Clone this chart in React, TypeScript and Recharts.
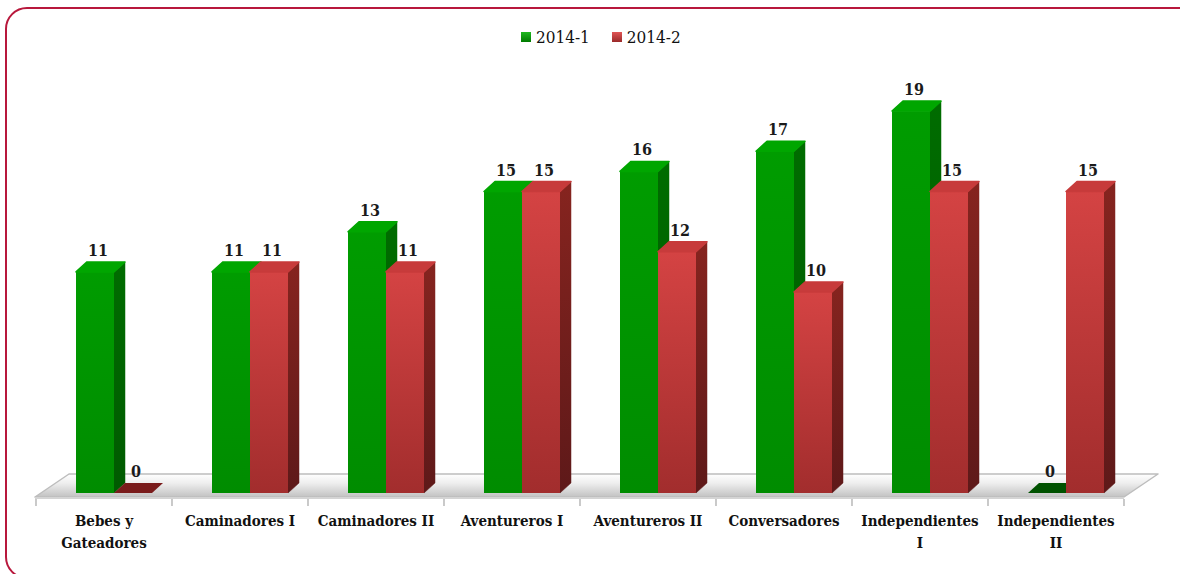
import React from 'react';
import { BarChart, Bar, XAxis, YAxis, Legend, LabelList, Customized } from 'recharts';

// ---------- data ----------
const categories = [
  'Bebes y Gateadores',
  'Caminadores I',
  'Caminadores II',
  'Aventureros I',
  'Aventureros II',
  'Conversadores',
  'Independientes I',
  'Independientes II',
];
const tickLabels = [
  ['Bebes y', 'Gateadores'],
  ['Caminadores I'],
  ['Caminadores II'],
  ['Aventureros I'],
  ['Aventureros II'],
  ['Conversadores'],
  ['Independientes', 'I'],
  ['Independientes', 'II'],
];
const seriesNames = ['2014-1', '2014-2'];
const values2014_1 = [11, 11, 13, 15, 16, 17, 19, 0];
const values2014_2 = [0, 11, 11, 15, 12, 10, 15, 15];
const yDomain = [0, 20];

const data = categories.map((c, i) => ({
  name: c,
  s1: values2014_1[i],
  s2: values2014_2[i],
}));

// ---------- layout ----------
const W = 1180;
const H = 574;
const LEGEND_H = 20;
const XAXIS_H = 60;
const MARGIN = { top: 71, right: 56, bottom: 21, left: 36 };
const PLOT_LEFT = MARGIN.left;
const PLOT_RIGHT = W - MARGIN.right;
const BASE = H - MARGIN.bottom - XAXIS_H;
const SHIFT = 10; // 3D depth shift of bars
const DX = 11;
const DY = 10;
const FONT = 'DejaVu Serif, serif';

const GREEN = {
  front: ['#009c00', '#008c00'],
  side: ['#006c00', '#005a00'],
  top: '#00a600',
  zero: '#005200',
};
const RED = {
  front: ['#d44343', '#a22d2d'],
  side: ['#86241f', '#5e1919'],
  top: '#c73b3b',
  zero: '#7a1c1c',
};

const Box3D = (props: any) => {
  const { x, y, width, height, pal, id } = props;
  if (x == null || y == null) return null;
  const X = x + SHIFT;
  const w = width;
  const h = Math.max(0, height);
  const top = y;
  const base = y + h;
  if (h < 0.5) {
    return (
      <polygon
        points={`${X},${base} ${X + w},${base} ${X + w + DX},${base - DY} ${X + DX},${base - DY}`}
        fill={pal.zero}
      />
    );
  }
  return (
    <g>
      <polygon
        points={`${X + w},${top} ${X + w + DX},${top - DY} ${X + w + DX},${base - DY} ${X + w},${base}`}
        fill={`url(#side-${id})`}
        stroke={`url(#side-${id})`}
        strokeWidth={0.5}
        strokeLinejoin="round"
      />
      <rect x={X} y={top} width={w} height={h} fill={`url(#front-${id})`} />
      <polygon
        points={`${X},${top} ${X + DX},${top - DY} ${X + w + DX},${top - DY} ${X + w},${top}`}
        fill={pal.top}
        stroke={pal.top}
        strokeWidth={1.5}
        strokeLinejoin="round"
      />
    </g>
  );
};

const ValueLabel = (props: any) => {
  const { x, y, width, height, value } = props;
  const h = Math.max(0, height);
  const top = h < 0.5 ? y + h : y;
  return (
    <text
      x={x + SHIFT + width / 2 + 3}
      y={top - DY - 6}
      textAnchor="middle"
      fontFamily={FONT}
      fontWeight="bold"
      fontStretch="condensed"
      fontSize={16}
      fill="#1a1a1a"
    >
      {value}
    </text>
  );
};

const CategoryTick = (props: any) => {
  const { x, payload, index } = props;
  const lines = tickLabels[index] || [String(payload.value)];
  return (
    <g>
      {lines.map((ln: string, i: number) => (
        <text
          key={i}
          x={x}
          y={BASE + 33 + i * 22}
          textAnchor="middle"
          fontFamily={FONT}
          fontWeight="bold"
          fontStretch="condensed"
          fontSize={15}
          fill="#111"
        >
          {ln}
        </text>
      ))}
    </g>
  );
};

const Floor = () => {
  const band = (PLOT_RIGHT - PLOT_LEFT) / categories.length;
  const fl = PLOT_LEFT - 1;
  const fr = PLOT_RIGHT;
  const fy = BASE + 4;
  const by = BASE - 19;
  const d = 34;
  const ticks = [];
  for (let k = 0; k <= categories.length; k++) {
    const tx = PLOT_LEFT + k * band;
    ticks.push(<line key={k} x1={tx} x2={tx} y1={fy + 2} y2={fy + 9} stroke="#a6a6a6" strokeWidth={1.2} />);
  }
  return (
    <g>
      <defs>
        <linearGradient id="floorGrad" x1="0" y1="0" x2="0" y2="1">
          <stop offset="0" stopColor="#ffffff" />
          <stop offset="0.4" stopColor="#eeeeee" />
          <stop offset="1" stopColor="#c2c2c2" />
        </linearGradient>
        {[['g', GREEN], ['r', RED]].map(([id, pal]: any) => (
          <React.Fragment key={id}>
            <linearGradient id={`front-${id}`} x1="0" y1="0" x2="0" y2="1">
              <stop offset="0" stopColor={pal.front[0]} />
              <stop offset="1" stopColor={pal.front[1]} />
            </linearGradient>
            <linearGradient id={`side-${id}`} x1="0" y1="0" x2="0" y2="1">
              <stop offset="0" stopColor={pal.side[0]} />
              <stop offset="1" stopColor={pal.side[1]} />
            </linearGradient>
          </React.Fragment>
        ))}
      </defs>
      <polygon
        points={`${fl},${fy} ${fr},${fy} ${fr + d},${by} ${fl + d},${by}`}
        fill="url(#floorGrad)"
        stroke="#bdbdbd"
        strokeWidth={1.5}
        strokeLinejoin="round"
      />
      <rect x={fl} y={fy} width={fr - fl} height={2} fill="#d4d4d4" />
      {ticks}
    </g>
  );
};

const LegendContent = () => (
  <div
    style={{
      display: 'flex',
      alignItems: 'center',
      height: LEGEND_H,
      fontFamily: FONT,
      fontStretch: 'condensed',
      fontSize: 17,
      color: '#111',
      whiteSpace: 'nowrap',
    }}
  >
    <span
      style={{
        display: 'inline-block',
        width: 10,
        height: 10,
        background: 'linear-gradient(#1fb81f, #007a00)',
        marginRight: 5,
      }}
    />
    <span style={{ marginRight: 22 }}>{seriesNames[0]}</span>
    <span
      style={{
        display: 'inline-block',
        width: 10,
        height: 10,
        background: 'linear-gradient(#e05555, #9a2a2a)',
        marginRight: 5,
      }}
    />
    <span>{seriesNames[1]}</span>
  </div>
);

export default function App() {
  return (
    <div style={{ position: 'absolute', left: 0, top: 0, width: W, height: H, background: '#fff', overflow: 'hidden' }}>
      <div
        style={{
          position: 'absolute',
          left: 5,
          top: 7,
          width: 1200,
          height: 572,
          border: '2px solid #b8183c',
          borderRadius: 22,
          boxSizing: 'border-box',
        }}
      />
      <div style={{ position: 'absolute', left: 0, top: 0 }}>
        <BarChart width={W} height={H} data={data} margin={MARGIN} barGap={0} barSize={38}>
          <Customized component={Floor} />
          <XAxis
            dataKey="name"
            height={XAXIS_H}
            axisLine={false}
            tickLine={false}
            interval={0}
            tick={<CategoryTick />}
          />
          <YAxis hide domain={yDomain} />
          <Legend
            verticalAlign="top"
            align="left"
            height={LEGEND_H}
            content={<LegendContent />}
            wrapperStyle={{ top: 27, left: 521, width: 'auto' }}
          />
          <Bar dataKey="s1" name={seriesNames[0]} fill="#009900" isAnimationActive={false}
            shape={(p: any) => <Box3D {...p} pal={GREEN} id="g" />}>
            <LabelList dataKey="s1" content={<ValueLabel />} />
          </Bar>
          <Bar dataKey="s2" name={seriesNames[1]} fill="#c03a3a" isAnimationActive={false}
            shape={(p: any) => <Box3D {...p} pal={RED} id="r" />}>
            <LabelList dataKey="s2" content={<ValueLabel />} />
          </Bar>
        </BarChart>
      </div>
    </div>
  );
}
